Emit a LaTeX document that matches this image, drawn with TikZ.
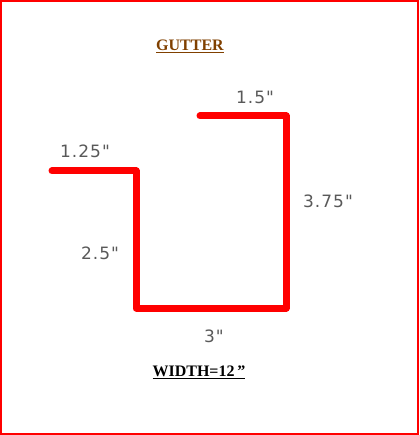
\documentclass[tikz,border=0pt]{standalone}
\usepackage{fontspec}
\setmainfont{Liberation Serif}
\newfontfamily\dimfont[LetterSpace=6]{DejaVu Sans}
\usetikzlibrary{positioning, calc}

\begin{document}
\begin{tikzpicture}[
  x=1pt, y=-1pt,
  frameline/.style={draw=red, line width=2pt},
  gutterline/.style={draw=red, line width=7pt, line cap=round, line join=round},
  dimlbl/.style={font=\dimfont\fontsize{17}{19}\selectfont, text=black!65, inner sep=0pt},
  head/.style={font=\rmfamily\bfseries\fontsize{16}{18}\selectfont, inner sep=0pt},
]

\useasboundingbox (0,0) rectangle (419,435);

% ===== Frame =====
\draw[frameline] (1,1) rectangle (418,434);

% ===== Profile =====
\coordinate (p1) at (52,171);
\coordinate (p2) at (136,171);
\coordinate (p3) at (136,308);
\coordinate (p4) at (286,308);
\coordinate (p5) at (286,116);
\coordinate (p6) at (200,116);
\draw[gutterline] (p1) -- (p2) -- (p3) -- (p4) -- (p5) -- (p6);

% ===== Labels =====
\node[head, text={rgb,255:red,128;green,64;blue,0}] (title) at (190,46) {\underline{GUTTER}};
\node[head, text=black] (width) at (199,372) {\underline{WIDTH=12$\,$''}};

\node[dimlbl] (top) at (255,97) {1.5"};
\node[dimlbl] (lip) at (85,151) {1.25"};
\node[dimlbl] (left) at (100,253) {2.5"};
\node[dimlbl] (right) at (328,201) {3.75"};
\node[dimlbl] (base) at (214,336) {3"};

\end{tikzpicture}
\end{document}
